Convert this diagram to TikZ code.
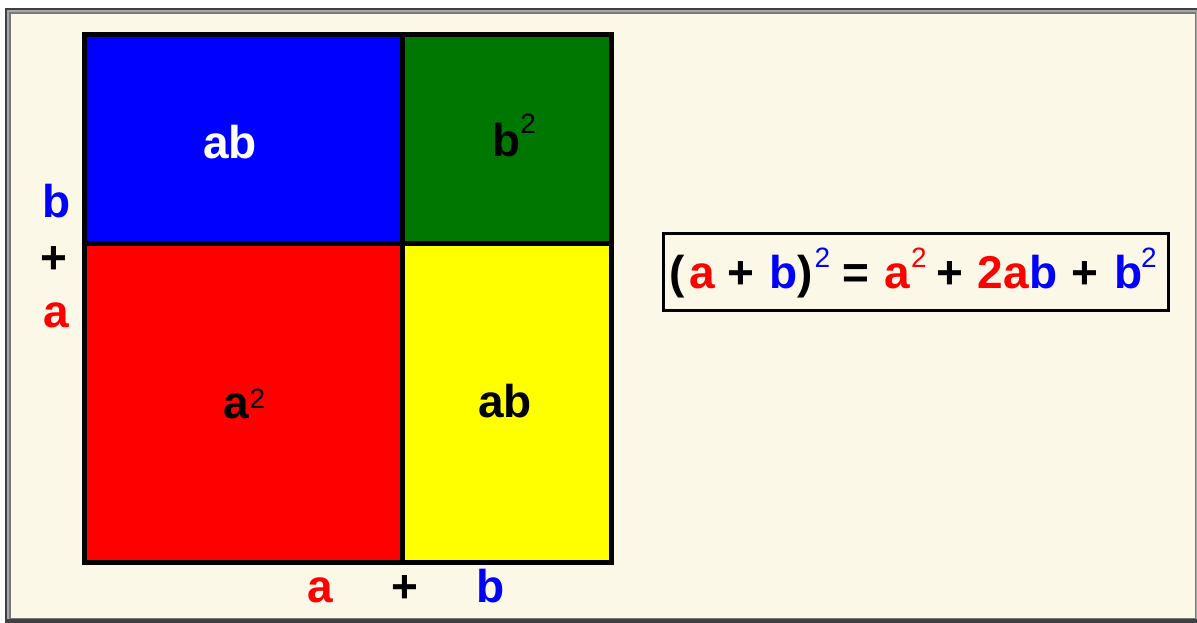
\documentclass[tikz,border=0pt]{standalone}
\usepackage{fontspec}
\setmainfont{Liberation Sans}
\definecolor{cream}{HTML}{FCF8E8}
\definecolor{sqred}{HTML}{FF0000}
\definecolor{sqblue}{HTML}{0000FF}
\definecolor{sqgreen}{HTML}{007700}
\definecolor{sqyellow}{HTML}{FFFF00}
\definecolor{fdark}{HTML}{404040}
\definecolor{flight}{HTML}{A8A8A8}
\definecolor{fmid}{HTML}{787878}
\newcommand\supTwo[1]{\raisebox{#1pt}{\fontsize{28}{28}\selectfont\mdseries 2}}
\tikzset{
  lbl/.style={inner sep=0pt, outer sep=0pt, anchor=base, font=\fontsize{46}{50}\selectfont\bfseries},
  suplbl/.style={inner sep=0pt, outer sep=0pt, anchor=base, font=\fontsize{28}{28}\selectfont},
}
\begin{document}
\begin{tikzpicture}[x=1pt,y=-1pt]
\useasboundingbox (0,0) rectangle (1197,622);
\fill[white] (0,0) rectangle (1197,622);
% frame
\fill[fdark] (5,8) rectangle (1200,625);
\fill[flight] (7,10) rectangle (1197,619);
\fill[fmid] (9,12) rectangle (1196,618.5);
\fill[cream] (11,14) rectangle (1195,618);
% cells
\fill[sqblue] (84,34.5) rectangle (402.5,243);
\fill[sqgreen] (402.5,34.5) rectangle (611.5,243);
\fill[sqred] (84,243) rectangle (402.5,562.5);
\fill[sqyellow] (402.5,243) rectangle (611.5,562.5);
\coordinate (tl) at (84,34.5);
\coordinate (br) at (611.5,562.5);
\coordinate (vt) at (402.5,34.5);
\coordinate (vb) at (402.5,562.5);
\coordinate (hl) at (84,243);
\coordinate (hr) at (611.5,243);
\draw[line width=5pt] (tl) rectangle (br);
\draw[line width=5pt] (vt) -- (vb);
\draw[line width=5pt] (hl) -- (hr);
% cell labels
\node[lbl, text=white] (abTop) at (230,158) {ab};
\node[lbl, text=black] (bsq) at (514,156) {b\supTwo{23}};
\node[lbl, text=black] (asq) at (244.5,418) {a\supTwo{10}};
\node[lbl, text=black] (abBot) at (505,417) {ab};
% side labels
\node[lbl, text=sqblue] (lb) at (56.5,217) {b};
\node[lbl, text=black] (lp) at (54,273) {+};
\node[lbl, text=sqred] (la) at (56.5,327) {a};
\node[lbl, text=sqred] (ba) at (320.5,602) {a};
\node[lbl, text=black] (bp) at (405,602) {+};
\node[lbl, text=sqblue] (bb) at (490.5,602) {b};
% equation
\node[draw, line width=3pt, minimum width=505pt, minimum height=77pt, inner sep=0pt] (eqbox) at (916,272) {};
\node[lbl] (e1) at (677.5,288) {(};
\node[lbl, text=sqred] (e2) at (702,288) {a};
\node[lbl] (e3) at (740.5,288) {+};
\node[lbl, text=sqblue] (e4) at (784,288) {b};
\node[lbl] (e5) at (805.5,288) {)};
\node[suplbl, text=sqblue] (e6) at (822.5,267) {2};
\node[lbl] (e7) at (855.5,288) {=};
\node[lbl, text=sqred] (e8) at (897,288) {a};
\node[suplbl, text=sqred] (e9) at (919,267) {2};
\node[lbl] (e10) at (949.5,288) {+};
\node[lbl] (e11) at (1017.5,288) {\textcolor{sqred}{2a}\textcolor{sqblue}{b}};
\node[lbl] (e12) at (1084.5,288) {+};
\node[lbl, text=sqblue] (e13) at (1129,288) {b};
\node[suplbl, text=sqblue] (e14) at (1149,267) {2};
\end{tikzpicture}
\end{document}
